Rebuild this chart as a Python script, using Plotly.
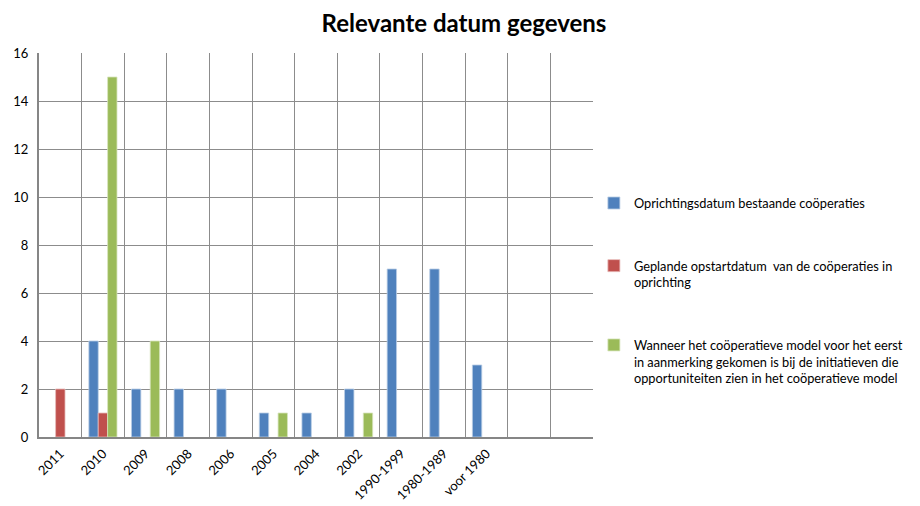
import plotly.graph_objects as go

categories = ["2011", "2010", "2009", "2008", "2006", "2005", "2004", "2002",
              "1990-1999", "1980-1989", "voor 1980", "", ""]
bestaande = [None, 4, 2, 2, 2, 1, 1, 2, 7, 7, 3, None, None]
gepland = [2, 1, None, None, None, None, None, None, None, None, None, None, None]
wanneer = [None, 15, 4, None, None, 1, None, 1, None, None, None, None, None]

names = [
    "Oprichtingsdatum bestaande coöperaties",
    "Geplande opstartdatum  van de coöperaties in<br>oprichting",
    "Wanneer het coöperatieve model voor het eerst<br>in aanmerking gekomen is bij de initiatieven die<br>opportuniteiten zien in het coöperatieve model",
]
colors = ["#4F81BD", "#C0504D", "#9BBB59"]
edges = ["#B9CDE5", "#E6B9B8", "#D7E4BD"]

x = list(range(len(categories)))
fig = go.Figure()
for i, vals in enumerate([bestaande, gepland, wanneer]):
    fig.add_trace(go.Bar(
        x=x, y=vals, name=names[i], legendgroup=f"g{i}",
        marker=dict(color=colors[i], line=dict(color=edges[i], width=0.8)),
    ))

font = "Lato, 'Liberation Sans', sans-serif"
fig.update_layout(
    width=912, height=498,
    paper_bgcolor="white", plot_bgcolor="white",
    margin=dict(l=31, r=322, t=45, b=69),
    barmode="group", bargap=0.34, bargroupgap=0,
    font=dict(family=font, size=13, color="#000"),
    title=dict(text="<b>Relevante datum gegevens</b>", x=0.5, xanchor="center",
               xref="container", y=0.969, yanchor="middle",
               font=dict(size=24, family=font, color="#000")),
    showlegend=True,
    legend=dict(x=1.0016, xanchor="left", y=0.648, yanchor="top",
                tracegroupgap=43, valign="top", traceorder="grouped",
                font=dict(size=12.8, family=font, color="#000"),
                itemwidth=30),
    xaxis=dict(range=[-0.5, 12.5], tickmode="array", tickvals=x[:11],
               ticktext=categories[:11], tickangle=-45, showgrid=False,
               ticks="", zeroline=False, showline=True, linecolor="#868686",
               linewidth=2, mirror=False, automargin=False,
               ticklabelstandoff=2, tickfont=dict(size=13),
               minor=dict(tickmode="array",
                          tickvals=[k - 0.5 for k in range(len(categories) + 1)],
                          showgrid=True, gridcolor="#8C8C8C", gridwidth=1, ticks="")),
    yaxis=dict(range=[0, 16], dtick=2, showgrid=True, gridcolor="#8C8C8C",
               gridwidth=1, zeroline=False, showline=True, linecolor="#868686",
               linewidth=2, ticks="", tickfont=dict(size=13), automargin=False,
               ticklabelstandoff=6),
)
fig.write_html("out.html")
